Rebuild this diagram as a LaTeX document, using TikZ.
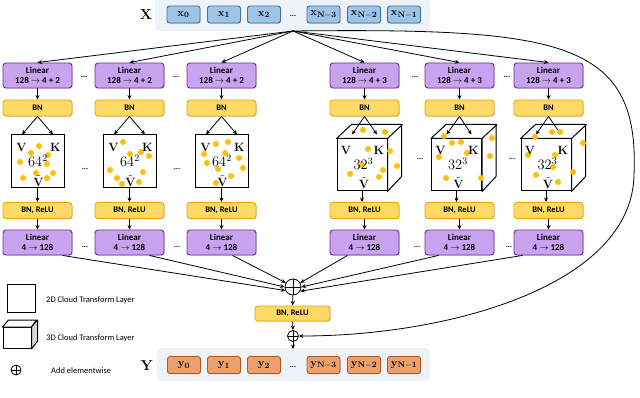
\documentclass[tikz,border=0pt]{standalone}
\usepackage[no-math]{fontspec}
\setmainfont{Carlito}
\usetikzlibrary{arrows.meta,calc,shadows}
\definecolor{linF}{HTML}{C9A3F0}
\definecolor{linD}{HTML}{7030A0}
\definecolor{bnF}{HTML}{FFD966}
\definecolor{bnD}{HTML}{E8A800}
\definecolor{xF}{HTML}{9DC3E6}
\definecolor{xD}{HTML}{41719C}
\definecolor{yF}{HTML}{EBA070}
\definecolor{yD}{HTML}{B5591B}
\definecolor{panelC}{HTML}{EEF3F9}
\definecolor{dotC}{HTML}{FFC000}
\begin{document}
\begin{tikzpicture}[x=1pt,y=-1pt,
 shad/.style={drop shadow={opacity=0.3,shadow xshift=0.8pt,shadow yshift=-0.8pt}},
 linbox/.style={shad,draw=linD,fill=linF,line width=0.9pt,rounded corners=3pt,minimum width=69pt,minimum height=25pt,inner sep=0pt,align=center,font=\bfseries\fontsize{9}{10.5}\selectfont},
 bnbox/.style={shad,draw=bnD,fill=bnF,line width=0.9pt,rounded corners=3pt,minimum width=69pt,minimum height=16pt,inner sep=0pt,font=\bfseries\fontsize{8.5}{9}\selectfont},
 xbox/.style={shad,draw=xD,fill=xF,line width=0.9pt,rounded corners=2.5pt,minimum width=33pt,minimum height=17pt,inner sep=0pt,font=\fontsize{11}{11}\selectfont},
 ybox/.style={shad,draw=yD,fill=yF,line width=0.9pt,rounded corners=2.5pt,minimum width=33pt,minimum height=17pt,inner sep=0pt,font=\fontsize{11}{11}\selectfont},
 sq/.style={draw,line width=1pt,fill=white,minimum width=53pt,minimum height=53pt,inner sep=0pt},
 cubef/.style={draw,line width=1pt,fill=white,minimum width=50pt,minimum height=52pt,inner sep=0pt},
 cubeside/.style={draw,line width=1pt,fill=white,line join=round},
 arr/.style={-{Stealth[length=4.5pt,width=4pt]},line width=0.8pt},
 vk/.style={inner sep=0pt,anchor=base,font=\fontsize{12}{12}\selectfont},
 bignum/.style={inner sep=0pt,anchor=base,font=\fontsize{14}{14}\selectfont},
 ell/.style={inner sep=0pt,font=\bfseries\fontsize{8}{8}\selectfont},
 opl/.style={circle,draw,line width=0.8pt,inner sep=0pt,path picture={\draw[line width=0.8pt] (path picture bounding box.north)--(path picture bounding box.south) (path picture bounding box.west)--(path picture bounding box.east);}},
 leg/.style={anchor=west,inner sep=0pt,font=\fontsize{8.5}{9}\selectfont}
]
\useasboundingbox (0,0) rectangle (640,398);

% panels
\fill[panelC,rounded corners=4pt] (155,-6) rectangle (430,31);
\fill[panelC,rounded corners=4pt] (157,348) rectangle (430,381);

% X row
\node[inner sep=0pt,font=\fontsize{15}{15}\selectfont] (Xl) at (146,15) {$\mathbf{X}$};
\node[xbox] (x0) at (183.5,14.5) {$\mathbf{x}_{\mathbf{0}}$};
\node[xbox] (x1) at (224,14.5) {$\mathbf{x}_{\mathbf{1}}$};
\node[xbox] (x2) at (264,14.5) {$\mathbf{x}_{\mathbf{2}}$};
\node[ell] (xd) at (293,16) {...};
\node[xbox] (xn3) at (323.5,14.5) {$\mathbf{x}_{\mathbf{N-3}}$};
\node[xbox] (xn2) at (364,14.5) {$\mathbf{x}_{\mathbf{N-2}}$};
\node[xbox] (xn1) at (404,14.5) {$\mathbf{x}_{\mathbf{N-1}}$};
\coordinate (src) at (293,31);

% Y row
\node[inner sep=0pt,font=\fontsize{15}{15}\selectfont] (Yl) at (147,366) {$\mathbf{Y}$};
\node[ybox] (y0) at (184,365) {$\mathbf{y}_{\mathbf{0}}$};
\node[ybox] (y1) at (224,365) {$\mathbf{y}_{\mathbf{1}}$};
\node[ybox] (y2) at (264,365) {$\mathbf{y}_{\mathbf{2}}$};
\node[ell] (yd) at (293,367) {...};
\node[ybox] (yn3) at (323.5,365) {$\mathbf{y}_{\mathbf{N-3}}$};
\node[ybox] (yn2) at (364,365) {$\mathbf{y}_{\mathbf{N-2}}$};
\node[ybox] (yn1) at (404,365) {$\mathbf{y}_{\mathbf{N-1}}$};

% columns
\foreach \i/\cx/\k in {1/37.5/2,2/129.5/2,3/221.5/2,4/364.5/3,5/459.5/3,6/548.5/3}{
  \node[linbox] (L\i) at (\cx,75.5) {Linear\\128 $\rightarrow$ 4 + \k};
  \node[bnbox] (B\i) at (\cx,108) {BN};
  \node[bnbox] (R\i) at (\cx,210.5) {BN, ReLU};
  \node[linbox] (M\i) at (\cx,242.5) {Linear\\4 $\rightarrow$ 128};
  \draw[arr] (L\i) -- (B\i);
  \draw[arr] (R\i) -- (M\i);
  \draw[arr] (src) -- (L\i.north);
}

% 2D squares
\foreach \i/\cx in {1/37.5,2/129.5,3/221.5}{
  \node[sq] (S\i) at (\cx,161.5) {};
  \draw[arr] (B\i.south) -- ($(S\i.north)+(-15.5,0)$);
  \draw[arr] (B\i.south) -- ($(S\i.north)+(15.5,0)$);
  \draw[arr] (S\i.south) -- (R\i.north);
}
\begin{scope}[shift={(S1.center)}]
  \foreach \a/\b in {1.5/-15.5,-6.5/-8.5,10.5/-6.5,-17.5/0.5,9.5/2.5,15.5/11.5,-14.5/16.5,-1.5/11.5,9.5/16.5}
    \fill[dotC] (\a,\b) circle (3pt);
\end{scope}
\begin{scope}[shift={(S2.center)}]
  \foreach \a/\b in {-6.5/-19.5,19.5/-5.5,0.5/-7.5,11.5/-9.5,-19.5/8.5,-12.5/16.5,13.5/10.5,9.5/20.5,-7.5/22.5}
    \fill[dotC] (\a,\b) circle (3pt);
\end{scope}
\begin{scope}[shift={(S3.center)}]
  \foreach \a/\b in {-5.5/-17.5,6.5/-19.5,-17.5/-7.5,3.5/-8.5,-14.5/1.5,17.5/-3.5,21.5/6.5,9.5/14.5,-5.5/21.5,-3.5/7.5}
    \fill[dotC] (\a,\b) circle (3pt);
\end{scope}
\foreach \i in {1,2,3}{
  \node[vk] (v\i) at ($(S\i.center)+(-16,-9.5)$) {$\mathbf{V}$};
  \node[vk] (k\i) at ($(S\i.center)+(18,-9.5)$) {$\mathbf{K}$};
  \node[bignum] (n\i) at ($(S\i.center)+(0.5,5.5)$) {$64^2$};
  \node[vk] (t\i) at ($(S\i.center)+(1,25)$) {$\tilde{\mathbf{V}}$};
}

% 3D cubes
\foreach \i/\cx in {4/362,5/456.5,6/546}{
  \node[cubef] (S\i) at (\cx,165) {};
  \draw[cubeside] (S\i.north west) -- ++(15,-14) -- ++(50,0) -- ++(0,52) -- (S\i.south east) -- (S\i.north east) -- cycle;
  \draw[line width=1pt] (S\i.north east) -- ++(15,-14);
  \draw[arr] (B\i.south) -- ($(S\i.north)+(-10,-4)$);
  \draw[arr] (B\i.south) -- ($(S\i.north)+(15,-4)$);
  \draw[arr] (S\i.south) -- (S\i.south |- R\i.north);
}
\begin{scope}[shift={(S4.center)}]
  \foreach \a/\b in {1/-35,23/-33,6/-16,28/-14,0/0,35/1,21/5,-12/9,17/12}
    \fill[dotC] (\a,\b) circle (3pt);
\end{scope}
\begin{scope}[shift={(S5.center)}]
  \foreach \a/\b in {-12.5/-29,4.5/-23,35.5/-27,-17.5/-8,10.5/-12,33.5/-9,-10.5/13,24.5/13,-4.5/-22}
    \fill[dotC] (\a,\b) circle (3pt);
\end{scope}
\begin{scope}[shift={(S6.center)}]
  \foreach \a/\b in {-11/-28,6/-33,14/-33,37/-22,-18/-10,9/-10,7/2,27/7,-10/10,12/17}
    \fill[dotC] (\a,\b) circle (3pt);
\end{scope}
\foreach \i in {4,5,6}{
  \node[vk] (v\i) at ($(S\i.center)+(-16,-10.5)$) {$\mathbf{V}$};
  \node[vk] (k\i) at ($(S\i.center)+(17,-10.5)$) {$\mathbf{K}$};
  \node[bignum] (n\i) at ($(S\i.center)+(1.5,4.5)$) {$32^3$};
  \node[vk] (t\i) at ($(S\i.center)+(2,23.5)$) {$\tilde{\mathbf{V}}$};
}

% ellipses between columns
\node[ell] (e1) at (84,77) {...};
\node[ell] (e2) at (176,77) {...};
\node[ell] (e3) at (415,77) {...};
\node[ell] (e4) at (507,77) {...};
\node[ell] (e5) at (85,169) {...};
\node[ell] (e6) at (177,169) {...};
\node[ell] (e7) at (420,159) {...};
\node[ell] (e8) at (512,159) {...};
\node[ell] (e9) at (85,247) {...};
\node[ell] (e10) at (177,247) {...};
\node[ell] (e11) at (417,247) {...};
\node[ell] (e12) at (509,247) {...};

% merge
\node[opl,minimum size=16pt] (op) at (293,287) {};
\node[bnbox,minimum width=75pt,minimum height=15pt] (bnb) at (292.5,313.5) {BN, ReLU};
\node[opl,minimum size=11pt] (op2) at (293,336) {};
\coordinate (ytop) at (293,349);
\draw[arr] (op) -- (bnb);
\draw[arr] (bnb) -- (op2);
\draw[arr] (op2) -- (ytop);

\draw[arr] ($(M1.south)+(25,0)$) -- (op.205);
\draw[arr] ($(M2.south)+(20,0)$) -- (op.180);
\draw[arr] ($(M3.south)+(11,0)$) -- (op.150);
\draw[arr] ($(M4.south)+(-17,0)$) -- (op.30);
\draw[arr] ($(M5.south)+(-21,0)$) -- (op.0);
\draw[arr] ($(M6.south)+(-26,0)$) -- (op.330);

% skip connection
\draw[arr] (src) .. controls (560,28) and (640,40) .. (634,175) .. controls (632,285) and (450,336) .. (op2.east);

% legend
\node[draw,line width=1pt,minimum width=28pt,minimum height=28pt,inner sep=0pt] (lg2) at (21,298) {};
\node[leg] (lt2) at (46,300) {2D Cloud Transform Layer};
\node[draw,line width=1pt,fill=white,minimum width=28pt,minimum height=21pt,inner sep=0pt] (lg3) at (17,338) {};
\draw[line width=1pt,fill=white,line join=round] (lg3.north west) -- ++(6,-7) -- ++(28,0) -- (lg3.north east) -- cycle;
\draw[line width=1pt,fill=gray!30,line join=round] (lg3.north east) -- ++(6,-7) -- ++(0,21) -- (lg3.south east) -- cycle;
\node[leg] (lt3) at (46,338) {3D Cloud Transform Layer};
\node[opl,minimum size=10pt] (lgo) at (16,370) {};
\node[leg] (lt4) at (51,371) {Add elementwise};
\end{tikzpicture}
\end{document}
